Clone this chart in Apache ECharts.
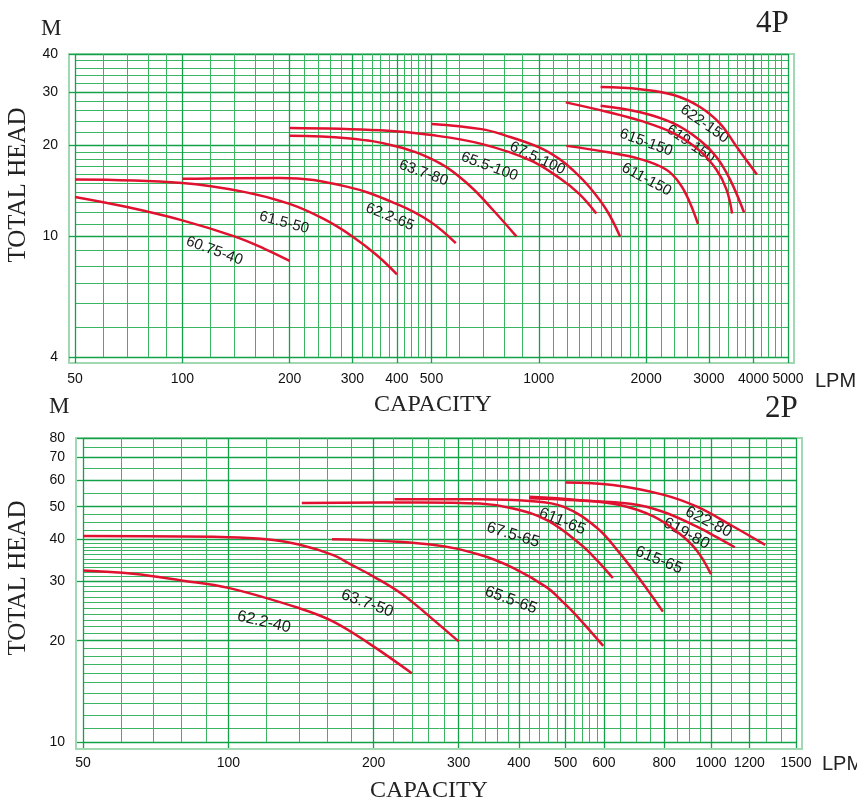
<!DOCTYPE html>
<html><head><meta charset="utf-8">
<script src="https://cdn.jsdelivr.net/npm/echarts@6/dist/echarts.min.js"></script>
<style>html,body{margin:0;padding:0;background:#fff}#c{width:857px;height:805px}</style>
</head><body><div id="c"></div>
<script>
// ---------------- 4P (top chart) ----------------
const X4_TICKS = [50,100,200,300,400,500,1000,2000,3000,4000,5000];
const X4_MINOR = [60,70,80,90,120,140,160,180,220,240,260,280,320,340,360,380,420,440,460,480,
  550,600,700,800,900,1100,1200,1300,1400,1500,1600,1700,1800,1900,
  2200,2400,2600,2800,3200,3400,3600,3800,4200,4400,4600,4800];
const Y4_TICKS = [4,10,20,30,40];
const Y4_MINOR = [5,6,7,8,9,11,12,13,14,15,16,17,18,19,22,24,26,28,32,34,36,38];

const NAMES4 = ['60.75-40','61.5-50','62.2-65','63.7-80','65.5-100','67.5-100','611-150','615-150','619-150','622-150'];
const C4_60_75_40 = [[50,13.5],[70,12.5],[100,11.3],[140,10.0],[170,9.1],[200,8.3]];
const C4_61_5_50  = [[50,15.4],[100,15.0],[150,14.0],[200,12.8],[250,11.4],[300,10.0],[350,8.7],[400,7.5]];
const C4_62_2_65  = [[100,15.5],[188,15.6],[289,14.6],[399,12.8],[495,11.2],[585,9.5]];
const C4_63_7_80  = [[200,21.5],[290,21.1],[400,19.8],[530,17.4],[640,14.7],[745,12.2],[865,10.0]];
const C4_65_5_100 = [[200,22.8],[360,22.4],[500,21.6],[690,20.2],[950,17.8],[1150,15.5],[1300,13.8],[1450,11.9]];
const C4_67_5_100 = [[500,23.5],[690,22.6],[800,21.6],[1010,19.6],[1150,17.9],[1250,16.5],[1390,14.5],[1550,12.2],[1690,10.0]];
const C4_611_150  = [[1195,19.9],[1550,19.0],[1925,18.0],[2280,16.6],[2490,14.9],[2655,12.9],[2795,11.0]];
const C4_615_150  = [[1190,27.7],[1550,25.8],[1925,24.1],[2390,21.9],[2825,19.2],[3150,16.6],[3360,14.3],[3485,11.9]];
const C4_619_150  = [[1490,27.0],[1925,25.7],[2390,23.6],[2825,20.8],[3150,18.3],[3440,15.4],[3765,12.0]];
const C4_622_150  = [[1490,31.1],[1925,30.6],[2390,29.3],[2825,26.8],[3220,23.6],[3585,19.8],[4090,16.0]];
const CURVES4 = [C4_60_75_40,C4_61_5_50,C4_62_2_65,C4_63_7_80,C4_65_5_100,C4_67_5_100,C4_611_150,C4_615_150,C4_619_150,C4_622_150];
// label anchors (data coordinates) and their tilt
const LABEL_AT4 = [[123,8.96],[193,11.1],[382,11.6],[475,16.2],[727,17.0],[991,18.1],[2005,15.4],[2000,20.4],[2667,20.2],[2915,23.5]];
const LABEL_TILT4 = [-20,-15,-22,-20,-20,-25,-28,-20,-35,-35];

// ---------------- 2P (bottom chart) ----------------
const X2_TICKS = [50,100,200,300,400,500,600,800,1000,1200,1500];
const X2_MINOR = [60,70,80,90,120,140,160,180,220,240,260,280,320,340,360,380,420,440,460,480,
  520,540,560,580,650,700,750,850,900,950,1100,1300,1400];
const Y2_TICKS = [10,20,30,40,50,60,70,80];
const Y2_MINOR = [11,12,13,14,15,16,17,18,19,21,22,23,24,25,26,27,28,29,31,32,33,34,35,36,37,38,39,
  42.5,45,47.5,55,65,75];

const NAMES2 = ['62.2-40','63.7-50','65.5-65','67.5-65','611-65','615-65','619-80','622-80'];
const C2_62_2_40 = [[50,32.3],[63.5,31.6],[80,30.2],[100,28.7],[140,25.0],[165,22.8],[197,19.5],[240,16.0]];
const C2_63_7_50 = [[50,40.9],[100,40.6],[120,40.0],[140,38.6],[165,35.9],[180,33.6],[200,31.0],[230,27.4],[262,23.5],[300,19.9]];
const C2_65_5_65 = [[164,40.0],[262,38.6],[332,36.0],[389,32.9],[457,28.8],[490,26.3],[520,24.2],[598,19.3]];
const C2_67_5_65 = [[142,51.3],[250,51.5],[332,51.1],[389,49.4],[457,45.6],[535,38.8],[580,34.7],[626,30.7]];
const C2_611_65  = [[221,52.6],[330,52.6],[421,52.0],[494,50.0],[580,43.3],[647,36.4],[714,30.3],[795,24.4]];
const C2_615_65  = [[420,53.5],[535,52.3],[647,50.6],[760,46.8],[860,41.6],[935,37.0],[1000,31.5]];
const C2_619_80  = [[420,53.0],[535,52.2],[680,51.0],[795,48.3],[935,43.6],[1025,40.7],[1120,37.9]];
const C2_622_80  = [[500,59.0],[626,58.0],[795,54.3],[935,50.0],[1096,44.2],[1295,38.5]];
const CURVES2 = [C2_62_2_40,C2_63_7_50,C2_65_5_65,C2_67_5_65,C2_611_65,C2_615_65,C2_619_80,C2_622_80];
const LABEL_AT2 = [[118.5,22.7],[194,25.8],[385,26.4],[389,41.2],[492,45.2],[780,34.7],[889,41.6],[988,45.0]];
const LABEL_TILT2 = [-13,-20,-20,-17,-22,-22,-28,-27];

// ---------------- styles ----------------
const RED = '#e0122f';
const G_MAJOR = '#12a048';
const G_MINOR = '#3cb563';
const G_FRAME = '#9fd8b1';
const SANS = 'Liberation Sans';
const SERIF = 'Liberation Serif';
const fmt = v => String(Math.round(v));

function majorAxis(gi, min, max, ticks, margin) {
  return {
    gridIndex: gi, type: 'log', logBase: 10, min: min, max: max,
    axisLine: {show: false},
    axisTick: {show: true, customValues: ticks, length: 6, lineStyle: {color: G_MAJOR, width: 1.3}},
    axisLabel: {show: true, customValues: ticks, margin: margin, formatter: fmt,
      fontSize: 14, color: '#111', fontFamily: SANS, hideOverlap: false},
    splitLine: {show: true, lineStyle: {color: G_MAJOR, width: 1.3}},
    minorTick: {show: false}, minorSplitLine: {show: false}
  };
}
function minorAxis(gi, min, max, vals) {
  return {
    gridIndex: gi, type: 'log', logBase: 10, min: min, max: max,
    axisLine: {show: false},
    axisTick: {show: false, customValues: vals},
    axisLabel: {show: false},
    splitLine: {show: true, lineStyle: {color: G_MINOR, width: 1}},
    minorTick: {show: false}, minorSplitLine: {show: false}
  };
}

const xAxis = [
  Object.assign(majorAxis(0, 50, 5000, X4_TICKS, 15), {position: 'bottom'}),
  Object.assign(minorAxis(0, 50, 5000, X4_MINOR), {position: 'bottom'}),
  Object.assign(majorAxis(1, 50, 1500, X2_TICKS, 14), {position: 'bottom'}),
  Object.assign(minorAxis(1, 50, 1500, X2_MINOR), {position: 'bottom'}),
  {gridIndex: 2, type: 'value', show: false},
  {gridIndex: 3, type: 'value', show: false}
];
const yAxis = [
  Object.assign(majorAxis(0, 4, 40, Y4_TICKS, 17), {position: 'left'}),
  Object.assign(minorAxis(0, 4, 40, Y4_MINOR), {position: 'left'}),
  Object.assign(majorAxis(1, 10, 80, Y2_TICKS, 18), {position: 'left'}),
  Object.assign(minorAxis(1, 10, 80, Y2_MINOR), {position: 'left'}),
  {gridIndex: 2, type: 'value', show: false},
  {gridIndex: 3, type: 'value', show: false}
];

function curve(name, data, xi, yi, at, tilt, fs) {
  return {
    type: 'line', name: name, data: data, xAxisIndex: xi, yAxisIndex: yi,
    smooth: 0.4, symbol: 'none', z: 5, silent: true,
    lineStyle: {color: RED, width: 2.5},
    markPoint: {
      symbol: 'rect', symbolSize: 1, silent: true,
      itemStyle: {color: 'rgba(0,0,0,0)'},
      label: {show: true, position: 'inside', formatter: name, rotate: tilt,
        fontSize: fs, color: '#1a1a1a', fontFamily: SANS},
      data: [{coord: at}]
    }
  };
}
const series = [];
CURVES4.forEach((d, i) => series.push(curve(NAMES4[i], d, 0, 0, LABEL_AT4[i], LABEL_TILT4[i], 15)));
CURVES2.forEach((d, i) => series.push(curve(NAMES2[i], d, 2, 2, LABEL_AT2[i], LABEL_TILT2[i], 16)));

function txt(text, x, y, font, align) {
  return {type: 'text', x: x, y: y, silent: true,
    style: {text: text, font: font, fill: '#222', textAlign: align || 'left', textVerticalAlign: 'middle'}};
}
const graphic = [
  txt('M', 41, 29, '23px "' + SERIF + '"'),
  txt('4P', 756, 24, '31px "' + SERIF + '"'),
  txt('LPM', 815, 381, '20px "' + SANS + '"'),
  txt('M', 49, 407, '23px "' + SERIF + '"'),
  txt('2P', 765, 409, '31px "' + SERIF + '"'),
  txt('LPM', 822, 764, '20px "' + SANS + '"'),
  txt('CAPACITY', 433, 405, '24px "' + SERIF + '"', 'center'),
  txt('CAPACITY', 429, 791, '24px "' + SERIF + '"', 'center'),
  Object.assign(txt('TOTAL HEAD', 18, 185, '25px "' + SERIF + '"', 'center'), {rotation: Math.PI / 2}),
  Object.assign(txt('TOTAL HEAD', 18, 578, '25px "' + SERIF + '"', 'center'), {rotation: Math.PI / 2})
];

const chart = echarts.init(document.getElementById('c'), null, {renderer: 'canvas'});
chart.setOption({
  animation: false,
  backgroundColor: '#fff',
  grid: [
    {left: 75, top: 54, width: 713, height: 303, show: false},
    {left: 83, top: 438, width: 713, height: 304, show: false},
    {left: 69, top: 54, width: 725, height: 309, show: true, borderColor: G_FRAME, borderWidth: 2, backgroundColor: 'transparent', z: -1},
    {left: 76, top: 438, width: 726, height: 311, show: true, borderColor: G_FRAME, borderWidth: 2, backgroundColor: 'transparent', z: -1}
  ],
  xAxis: xAxis,
  yAxis: yAxis,
  series: series,
  graphic: graphic
});
</script></body></html>
